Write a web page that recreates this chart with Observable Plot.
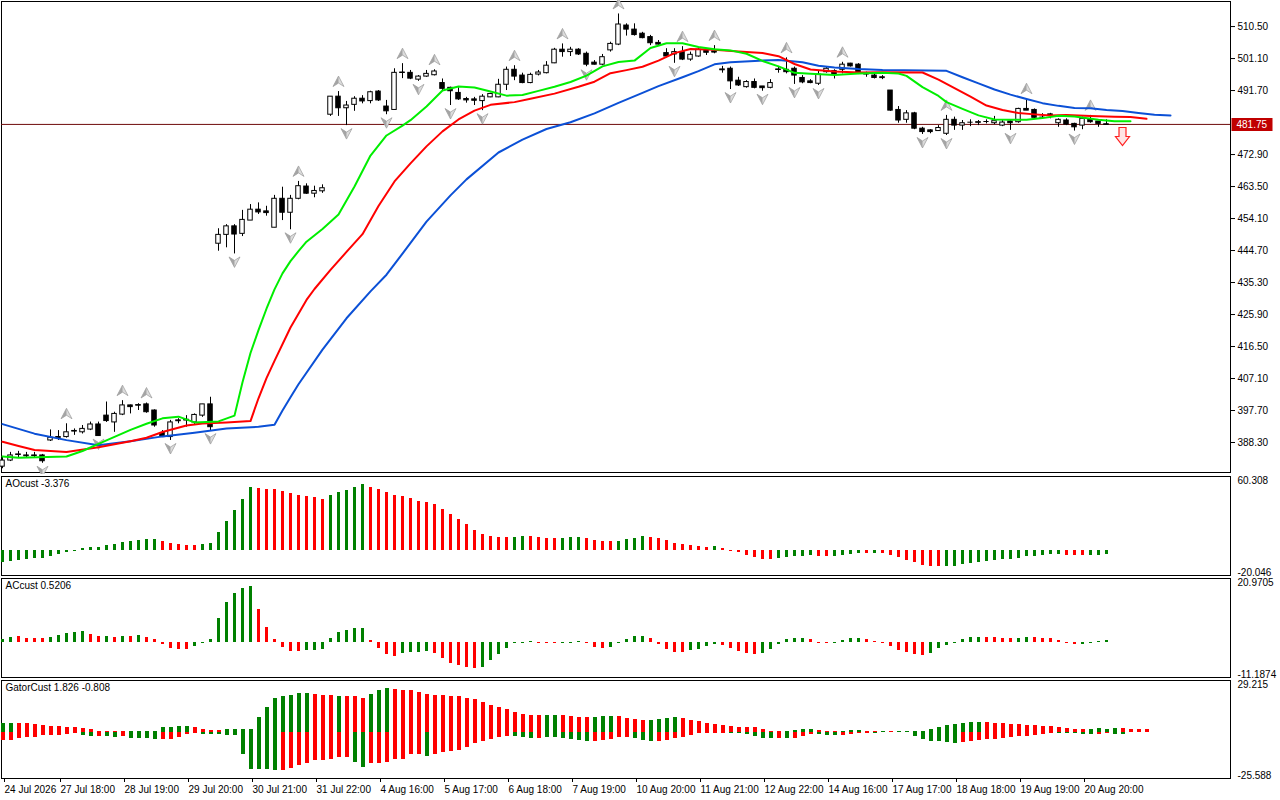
<!DOCTYPE html>
<html><head><meta charset="utf-8">
<script src="https://cdn.jsdelivr.net/npm/d3@7"></script>
<script src="https://cdn.jsdelivr.net/npm/@observablehq/plot@0.6"></script>
<style>
html,body{margin:0;padding:0;background:#fff;}
#chart{position:relative;width:1280px;height:800px;overflow:hidden;background:#fff;}
#chart svg{position:absolute;left:0;display:block;}
</style></head>
<body><div id="chart"></div>
<script>
// ---------------- DATA ----------------
const opens = [
381.2,383.0,384.7,384.5,384.4,384.5,388.9,389.9,389.9,391.6,
391.3,392.1,393.6,396.2,394.2,396.5,399.2,399.2,399.5,397.7,
391.1,389.9,394.8,395.0,394.2,396.2,399.5,446.7,449.3,451.8,
449.6,453.5,456.7,456.2,451.4,459.9,455.8,459.9,463.5,461.4,
462.1,484.6,489.9,486.5,487.5,489.3,488.6,491.4,487.0,486.0,
496.9,496.9,494.9,495.8,496.2,493.9,492.5,491.0,489.2,489.1,
488.6,489.7,489.7,493.4,497.8,496.1,493.9,496.4,496.8,499.7,
503.7,503.0,503.7,502.5,499.9,499.3,503.5,505.2,510.8,509.6,
508.4,507.4,505.7,502.7,502.3,503.0,500.8,501.7,503.3,503.2,
497.9,498.1,494.6,492.7,494.2,492.9,492.5,497.8,497.8,498.1,
495.4,494.4,493.7,497.1,497.4,497.8,499.6,499.3,496.8,496.1,
495.6,491.7,486.0,483.1,485.0,480.5,480.0,479.8,479.0,483.1,
481.4,482.4,482.3,482.6,482.1,481.4,482.6,482.4,486.3,486.0,
483.9,484.7,482.1,482.9,481.9,481.4,483.2,482.6,481.8];
const highs = [
384.2,385.4,385.7,385.4,385.4,384.8,392.0,391.8,393.8,392.3,
393.3,394.3,394.3,400.2,397.2,400.6,399.3,399.7,399.9,397.9,
391.8,394.8,395.3,396.2,396.7,399.5,401.6,451.1,452.3,452.3,
456.5,458.2,458.7,457.7,460.9,463.3,460.9,465.0,464.3,463.6,
464.0,489.9,491.4,488.5,489.9,490.2,491.5,491.7,488.8,498.1,
499.6,497.6,496.1,497.6,497.8,495.1,492.7,492.5,489.7,489.7,
490.5,490.9,495.0,498.6,499.0,496.8,496.8,497.6,500.2,504.1,
505.4,504.4,504.0,503.0,500.5,502.3,505.9,514.2,511.3,511.3,
508.8,507.9,506.4,504.0,504.0,504.6,503.0,504.0,504.0,504.9,
498.8,498.6,495.6,494.6,495.1,492.9,494.9,498.8,501.3,498.6,
496.1,494.9,497.6,498.6,497.8,500.0,499.7,499.6,497.1,496.6,
496.1,491.7,487.0,485.8,485.3,480.9,480.2,481.4,484.4,483.9,
482.9,483.1,482.9,483.1,484.1,483.1,482.9,486.5,489.3,486.3,
484.9,485.0,483.4,483.4,482.1,483.9,484.4,482.6,483.1];
const lows = [
380.6,382.7,383.9,383.6,383.9,382.2,388.6,388.9,389.6,390.4,
390.8,391.8,390.2,394.2,391.3,396.2,396.7,397.7,396.9,392.8,
389.9,388.9,393.8,392.8,393.3,395.7,391.8,444.5,445.5,443.7,
448.8,453.5,455.3,454.8,451.4,453.5,450.8,459.6,461.2,460.2,
461.5,484.1,484.1,481.4,485.6,487.8,487.8,488.5,484.6,486.0,
495.2,494.9,494.4,495.6,496.0,491.5,487.3,488.8,488.0,487.3,
485.8,489.6,489.6,491.7,494.6,493.7,493.7,496.0,496.6,499.6,
501.5,501.7,502.0,498.7,499.2,499.0,503.0,504.9,507.7,507.7,
506.9,504.9,504.9,501.3,499.7,500.5,500.3,501.5,502.0,502.5,
496.8,492.0,492.9,492.4,492.2,491.5,492.2,496.8,496.6,493.5,
493.7,493.7,493.2,496.8,495.1,496.6,498.6,496.4,495.6,495.1,
494.9,485.6,482.1,482.1,480.2,478.8,479.0,479.7,478.5,480.0,
480.0,481.1,481.4,481.9,481.7,481.1,480.0,482.1,485.8,483.4,
483.4,483.4,480.9,481.4,479.8,480.2,482.1,480.9,481.7];
const closes = [
383.0,384.5,384.8,384.4,384.5,382.8,389.7,389.8,391.3,391.7,
392.3,393.6,390.2,394.6,396.7,399.2,398.7,399.3,397.2,393.3,
389.9,394.2,394.7,394.9,396.4,399.5,392.8,449.3,451.8,449.4,
453.7,456.7,455.9,455.7,459.9,455.8,459.9,463.6,461.4,462.2,
463.0,489.9,486.5,487.3,489.3,488.5,491.2,488.8,485.6,496.9,
497.0,495.2,495.8,496.6,497.3,492.2,491.5,489.1,488.8,488.7,
489.9,490.7,493.4,497.8,495.8,493.9,496.3,497.0,499.0,503.7,
503.0,503.7,502.3,499.3,499.3,501.5,505.4,511.1,509.6,508.0,
507.1,505.6,505.2,501.7,503.0,500.8,502.2,503.7,502.8,503.0,
497.8,494.4,493.2,494.2,492.5,492.4,493.9,497.9,497.1,496.1,
494.1,493.9,496.4,498.1,496.4,499.3,498.8,496.8,496.4,495.4,
495.5,485.8,482.9,485.0,480.5,479.5,479.5,480.7,483.1,481.4,
482.1,482.4,482.4,482.6,482.7,482.3,482.1,486.3,485.8,483.7,
483.9,484.6,483.1,481.7,480.9,483.4,482.4,481.9,481.75];
const lastPrice = 481.75;

// Alligator lines (bar index, price)
const jawIdx = [0,4,8,12,16,20,24,28,32,34,35,36,37,40,43,46,48,50,53,56,58,62,65,68,71,74,77,80,82,85,87,89,91,94,97,100,102,104,107,110,118,120,122,124,126,128,130,132,134,136,138,140,142,144,146];
const jawVal = [393.7,390.9,389.0,387.5,388.7,390.1,391.2,392.4,392.9,393.5,397.7,401.6,405.4,415.6,424.8,432.7,437.6,443.8,453.2,460.9,465.6,473.5,477.3,480.4,482.4,485.0,488.1,491.0,493.0,495.6,497.4,499.4,500.0,500.4,500.7,500.0,499.0,498.5,498.0,497.7,497.5,495.6,493.8,492.0,490.5,489.2,488.0,487.2,486.6,486.5,486.0,485.7,485.1,484.6,484.4];
const teethIdx = [0,2,4,8,12,16,18,20,23,25,28,31,32,33,34,36,38,39,41,43,45,47,49,51,53,55,57,59,61,64,66,69,72,74,76,78,80,82,84,86,89,92,95,97,99,101,104,107,110,115,117,119,121,123,125,127,129,131,133,136,139,141,143];
const teethVal = [388.5,387.3,386.1,385.5,386.9,388.7,389.7,391.4,393.3,393.9,394.2,394.6,401.3,407.2,412.3,422.1,430.2,433.4,439.0,444.3,449.5,457.8,465.0,470.3,475.3,479.7,483.2,485.8,487.5,488.3,489.3,490.8,492.8,494.3,496.8,497.7,498.7,500.5,502.7,503.9,503.7,503.2,502.7,501.8,499.5,497.9,497.3,497.0,497.1,497.0,494.9,492.4,489.9,487.3,486.0,485.1,484.7,484.4,484.5,484.2,484.0,483.9,483.4];
const lipsIdx = [0,2,8,10,12,16,18,20,22,24,27,29,30,31,32,33,34,35,36,37,38,40,42,44,46,48,50,51,53,55,57,59,61,63,65,67,69,71,73,75,77,79,81,83,85,87,89,91,93,95,97,99,101,104,107,110,112,113,115,117,118,120,122,124,126,128,130,132,134,137,139,141];
const lipsVal = [384.2,383.8,384.2,385.8,387.9,392.0,393.8,395.4,395.9,394.2,394.5,396.2,406.0,414.6,421.3,427.6,433.3,438.0,441.6,444.5,447.3,451.0,455.3,463.5,472.6,478.5,481.4,483.0,487.0,491.7,492.9,492.6,491.4,490.2,490.4,491.6,492.8,494.2,496.1,498.8,500.1,500.5,504.2,505.6,505.6,504.5,503.8,503.5,502.5,500.4,498.8,496.9,496.6,496.3,496.7,496.9,496.7,496.0,492.7,490.1,488.3,486.3,484.4,483.2,483.1,483.1,483.6,484.3,484.1,483.1,482.7,482.7];

// Fractals (bar indices) and sell signal
const upFractalIdx = [8,15,18,37,42,50,54,64,70,77,85,89,98,105,118,128,136];
const downFractalIdx = [5,12,21,26,29,36,43,48,52,56,60,73,84,91,95,99,102,115,118,126,134];
const sellSignals = [{i: 140, price: 478.2}];

// AO
const aoValues = [
-9.9,-8.8,-8.0,-7.2,-6.9,-6.3,-5.0,-3.0,-1.4,-0.8,
1.7,2.5,2.5,4.1,5.0,6.6,7.4,8.0,9.1,9.1,
7.4,5.8,5.0,4.1,4.1,5.0,5.8,14.9,24.2,33.3,
42.1,52.0,51.2,50.4,50.4,48.7,47.1,45.4,44.9,43.8,
42.1,45.4,48.2,49.6,52.0,54.5,52.0,50.4,48.2,45.4,
44.6,43.0,40.5,39.6,38.0,33.9,29.7,25.6,21.5,16.5,
13.2,11.6,10.7,10.7,10.9,11.6,11.4,10.7,9.9,9.8,
10.0,10.7,10.8,9.9,8.3,7.4,7.3,7.5,9.1,9.9,
11.6,10.7,9.9,8.3,5.8,5.0,4.1,3.3,2.5,3.3,
1.7,-0.8,-1.7,-4.1,-5.8,-7.4,-7.5,-6.6,-5.8,-5.0,
-4.9,-4.1,-5.0,-5.1,-5.0,-4.1,-3.3,-2.5,-2.6,-2.4,
-2.5,-4.1,-5.8,-8.3,-9.9,-12.4,-13.2,-13.3,-13.2,-13.1,
-11.6,-10.7,-9.9,-9.1,-8.3,-7.4,-7.4,-6.6,-5.0,-5.0,
-4.1,-3.3,-3.3,-4.1,-4.1,-4.1,-4.1,-4.1,-3.376];
const aoColors = ("gggggggggggggggggggg"+"rrrrr"+"ggggggg"+"rrrrrrrrr"+"ggggg"+"rrrrrrrrrrrrrrrrrr"+"gg"+"rrrr"+"ggg"+"rrrr"+"gggg"+"rrrrrrrr"+"g"+"rrrrrrr"+"ggggg"+"rr"+"gggg"+"r"+"g"+"rrrrrrrr"+"ggggggggggggggg"+"rrr"+"ggg").split("");

// AC
const acValues = [
0.9,1.5,1.8,1.2,1.2,1.2,1.5,2.2,2.9,3.2,
3.5,2.5,1.9,1.9,1.5,1.9,1.9,2.2,1.5,0.9,
-0.7,-2.1,-2.4,-2.4,-1.4,-0.3,0.9,7.8,13.1,16.1,
17.8,18.5,10.8,4.9,0.9,-1.8,-3.1,-3.1,-2.8,-2.8,
-2.4,1.2,3.2,3.9,4.5,4.5,0.6,-2.1,-4.1,-4.8,
-3.8,-3.4,-3.4,-3.1,-3.8,-5.4,-7.1,-7.7,-8.4,-8.7,
-8.4,-6.1,-4.1,-2.1,-0.3,-0.3,0.3,-0.3,-0.3,-0.4,
-0.3,-0.3,0.3,-0.3,-1.7,-2.0,-1.7,-0.3,0.9,1.9,
1.9,1.2,-0.7,-2.3,-3.3,-3.3,-2.7,-2.3,-1.3,-0.7,
-1.0,-2.0,-3.0,-3.6,-4.0,-3.6,-2.3,-0.7,0.9,1.2,
1.2,0.9,-0.3,-0.3,-0.3,0.6,1.2,1.2,0.9,0.3,
-0.3,-1.3,-2.7,-3.3,-4.0,-4.3,-3.6,-2.0,-1.0,-0.3,
0.9,1.5,1.5,1.5,1.5,1.2,1.2,1.2,1.5,1.5,
1.2,1.2,0.6,-0.3,-0.7,-0.7,-0.3,0.3,0.5206];
const acColors = ("gg"+"rrrr"+"ggggg"+"rr"+"g"+"r"+"g"+"r"+"g"+"rrrrrr"+"gggggggg"+"rrrrrr"+"gggggggg"+"rrrr"+"gggg"+"rrrrrr"+"ggggggg"+"rrr"+"ggg"+"rrr"+"ggggg"+"rrrrr"+"gggg"+"rrrrr"+"gggggg"+"rrr"+"gggg"+"rrrrrrrr"+"ggggggg"+"rrrr"+"gg"+"rrrrrr"+"gggg").split("");

// Gator
const gatorUpper = [
5.2,5.2,4.8,4.8,4.4,3.8,3.3,3.3,2.7,2.7,
2.1,1.5,0.4,0.3,0.3,0.3,0.3,0.3,0.3,0.6,
2.7,2.7,3.3,3.3,2.7,1.5,1.0,1.0,1.5,1.5,
1.5,1.5,8.6,14.4,19.6,20.7,21.3,22.1,22.1,21.5,
20.9,20.9,20.6,20.6,20.6,19.6,21.7,24.0,25.2,24.6,
24.0,24.0,22.9,21.7,21.1,21.1,20.6,20.6,19.4,18.8,
17.1,15.4,14.2,13.1,11.3,10.2,9.6,9.6,9.6,9.6,
9.4,9.0,8.6,8.6,8.6,9.2,9.2,9.2,8.1,7.3,
6.9,6.9,7.5,8.1,8.6,8.1,6.9,6.3,5.2,4.6,
4.0,3.5,2.9,2.9,2.9,1.7,0.6,0.3,0.6,1.2,
1.7,1.7,1.2,0.6,0.3,0.6,1.2,1.2,0.6,0.6,
0.3,0.3,0.3,0.3,0.3,0.3,1.5,2.7,3.8,4.4,
5.0,5.6,5.6,5.6,5.0,5.0,4.4,4.4,3.8,3.8,
3.3,3.3,2.7,2.1,1.5,1.5,1.5,2.1,1.83,2.1,
2.1,1.5,1.5,1.5];
const gatorUpperColors = ("gg"+"rrrrrrrrrrrrrr"+"gggggggg"+"rrrr"+"ggggggggggg"+"rrr"+"g"+"rrr"+"ggg"+"rrrrrrrrrrrrrrrrrrr"+"gg"+"rrrr"+"ggg"+"rrrr"+"gggg"+"rrrrrrrrrrrrr"+"gggg"+"rrr"+"ggg"+"rr"+"g"+"r"+"ggggggggggg"+"rrrrrrrrrrrrr"+"gggg"+"rrrr").split("");
const gatorLower = [
-4.8,-4.8,-3.7,-3.3,-2.9,-1.7,-1.7,-1.7,-1.2,-0.6,
-2.1,-2.3,-2.3,-2.3,-2.9,-2.3,-3.5,-3.5,-3.5,-4.0,
-4.0,-4.0,-2.9,-1.2,-0.6,-1.2,-1.2,-1.2,-1.7,-1.7,
-12.7,-21.3,-21.3,-21.3,-21.9,-21.9,-20.7,-19.0,-17.9,-16.1,
-16.1,-15.6,-14.4,-14.4,-17.3,-20.2,-17.9,-17.9,-17.3,-15.9,
-15.6,-13.1,-12.7,-13.8,-12.7,-11.5,-11.0,-10.4,-8.6,-6.3,
-5.2,-4.0,-2.9,-2.3,-2.3,-2.9,-3.7,-3.7,-3.3,-3.3,
-3.7,-4.2,-4.8,-5.4,-5.4,-4.8,-4.2,-3.1,-3.1,-3.7,
-4.8,-5.4,-5.4,-4.8,-3.7,-3.1,-1.9,-0.8,-0.8,-0.8,
-0.8,-0.8,-0.8,-1.3,-2.5,-3.7,-3.7,-3.7,-3.7,-3.7,
-2.5,-1.3,-1.3,-1.9,-1.7,-1.9,-1.3,-0.8,-0.8,-0.8,
-0.3,-0.3,-0.3,-0.3,-2.5,-4.2,-5.4,-5.4,-6.0,-6.5,
-6.0,-5.4,-4.8,-4.2,-4.2,-3.7,-3.1,-2.5,-2.5,-1.9,
-1.3,-0.8,-0.8,-0.8,-0.8,-1.3,-1.3,-1.3,-0.81,-1.3,
-1.3,-0.3];
const gatorLowerColors = ("rrrrrrrrrr"+"gg"+"r"+"gg"+"r"+"gggg"+"rrrrr"+"gggggggggg"+"rrrrrrrrr"+"gg"+"rrrrrrr"+"g"+"rrrrrrrrrr"+"ggg"+"r"+"gggggg"+"rrrrr"+"ggg"+"rrrrrrrrr"+"gggggg"+"r"+"g"+"rrr"+"ggg"+"rrrr"+"gg"+"r"+"gggggggg"+"rrrrrrrrrrrr"+"ggggg"+"rr"+"ggg").split("");

// Axis labels
const priceTicks = [510.50, 501.10, 491.70, 472.90, 463.50, 454.10, 444.70, 435.30, 425.90, 416.50, 407.10, 397.70, 388.30];
const timeTickIdx = [0,7,15,23,31,39,47,55,63,71,79,87,95,103,111,119,127,135];
const timeTickLabels = ["24 Jul 2026","27 Jul 18:00","28 Jul 19:00","29 Jul 20:00","30 Jul 21:00","31 Jul 22:00","4 Aug 16:00","5 Aug 17:00","6 Aug 18:00","7 Aug 19:00","10 Aug 20:00","11 Aug 21:00","12 Aug 22:00","14 Aug 16:00","17 Aug 17:00","18 Aug 18:00","19 Aug 19:00","20 Aug 20:00"];
const paneTitles = {ao: "AOcust -3.376", ac: "ACcust 0.5206", gator: "GatorCust 1.826 -0.808"};
const paneScaleLabels = {ao: ["60.308", "-20.046"], ac: ["20.9705", "-11.1874"], gator: ["29.215", "-25.588"]};

// ---------------- BUILD ----------------
const GREEN = "#008000", RED = "#ff0000";
const col = c => c === "g" ? GREEN : RED;
const candles = opens.map((o, i) => ({i, o, h: highs[i], l: lows[i], c: closes[i]}));
const toPts = (idx, val) => idx.map((i, k) => ({i, v: val[k]}));
const jaw = toPts(jawIdx, jawVal), teeth = toPts(teethIdx, teethVal), lips = toPts(lipsIdx, lipsVal);
const upFr = upFractalIdx.map(i => ({i, v: highs[i]}));
const dnFr = downFractalIdx.map(i => ({i, v: lows[i]}));
const ao = aoValues.map((v, i) => ({i, v, c: col(aoColors[i])}));
const ac = acValues.map((v, i) => ({i, v, c: col(acColors[i])}));
const gU = gatorUpper.map((v, i) => ({i, v, c: col(gatorUpperColors[i])}));
const gL = gatorLower.map((v, i) => ({i, v, c: col(gatorLowerColors[i])}));

const xDomain = [-0.125, 153.5];
const FONT = "'Liberation Sans', Arial, sans-serif";
const style = {fontFamily: FONT, fontSize: "10px", color: "black", background: "white", overflow: "visible"};

const upShape = {draw(c){c.moveTo(0,-5.5);c.lineTo(5.5,5);c.lineTo(0,1.5);c.lineTo(-5.5,5);c.closePath();}};
const upHalf = {draw(c){c.moveTo(0,-5.5);c.lineTo(0,1.5);c.lineTo(-5.5,5);c.closePath();}};
const dnShape = {draw(c){c.moveTo(0,5.5);c.lineTo(5.5,-5);c.lineTo(0,-1.5);c.lineTo(-5.5,-5);c.closePath();}};
const dnHalf = {draw(c){c.moveTo(0,5.5);c.lineTo(0,-1.5);c.lineTo(-5.5,-5);c.closePath();}};
const sellShape = {draw(c){c.moveTo(-3.5,-9);c.lineTo(3.5,-9);c.lineTo(3.5,0);c.lineTo(7,0);c.lineTo(0,9);c.lineTo(-7,0);c.lineTo(-3.5,0);c.closePath();}};
const tagShape = {draw(c){c.rect(1,-6.5,41,13);}};

const chart = document.getElementById("chart");
function place(svg, top){ svg.style.top = top + "px"; chart.appendChild(svg); }

const main = Plot.plot({
  width: 1280, height: 474, marginLeft: 1, marginRight: 50, marginTop: 1, marginBottom: 2,
  x: {domain: xDomain, axis: null},
  y: {domain: [379.49, 517.86], axis: null},
  style,
  marks: [
    Plot.frame({stroke: "black"}),
    Plot.ruleY([lastPrice], {stroke: "#6e0a0a", strokeWidth: 1}),
    Plot.ruleX(candles, {x: "i", y1: "l", y2: "h", stroke: "black", strokeWidth: 1}),
    Plot.rect(candles, {x1: d => d.i - 0.28, x2: d => d.i + 0.28, y1: "o", y2: "c", fill: d => d.c >= d.o ? "white" : "black", stroke: "black", strokeWidth: 1}),
    Plot.ruleY(candles.filter(d => Math.abs(d.c - d.o) < 0.35), {y: "c", x1: d => d.i - 0.33, x2: d => d.i + 0.33, stroke: "black"}),
    Plot.dot(upFr, {x: "i", y: "v", symbol: upShape, fill: "#dcdcdc", stroke: "#8c8c8c", strokeWidth: 0.6, dy: -10}),
    Plot.dot(upFr, {x: "i", y: "v", symbol: upHalf, fill: "#a4a4a4", stroke: "none", dy: -10}),
    Plot.dot(dnFr, {x: "i", y: "v", symbol: dnShape, fill: "#dcdcdc", stroke: "#8c8c8c", strokeWidth: 0.6, dy: 8}),
    Plot.dot(dnFr, {x: "i", y: "v", symbol: dnHalf, fill: "#a4a4a4", stroke: "none", dy: 8}),
    Plot.line(jaw, {x: "i", y: "v", stroke: "#0b50d6", strokeWidth: 2}),
    Plot.line(teeth, {x: "i", y: "v", stroke: "#ff0000", strokeWidth: 2}),
    Plot.line(lips, {x: "i", y: "v", stroke: "#00ee00", strokeWidth: 2}),
    Plot.dot(sellSignals, {x: "i", y: "price", symbol: sellShape, fill: "#ffe4e4", stroke: "#ff2020", strokeWidth: 1.2}),
    Plot.axisY({anchor: "right", ticks: priceTicks, tickFormat: d => d.toFixed(2), tickSize: 4, tickPadding: 3, fontSize: 10}),
    Plot.dot([lastPrice], {y: d => d, frameAnchor: "right", symbol: tagShape, fill: "#c00000", stroke: "none"}),
    Plot.text([lastPrice], {y: d => d, frameAnchor: "right", dx: 6, text: d => d.toFixed(2), fill: "white", textAnchor: "start", fontSize: 10})
  ]
});
place(main, 0);

function subPane(key, data2, top, height, mt, mb, domain, width, extra) {
  const marks = [
    Plot.frame({stroke: "black"}),
    ...data2.map(d => Plot.ruleX(d, {x: "i", y1: 0, y2: "v", stroke: "c", strokeWidth: width, shapeRendering: "crispEdges"})),
    Plot.text([paneTitles[key]], {text: d => d, frameAnchor: "top-left", dx: 4, dy: 3, lineAnchor: "top", textAnchor: "start", fontSize: 10}),
    Plot.text([paneScaleLabels[key][0]], {text: d => d, frameAnchor: "top-right", dx: 7, dy: 0, lineAnchor: "top", textAnchor: "start", fontSize: 10}),
    Plot.text([paneScaleLabels[key][1]], {text: d => d, frameAnchor: "bottom-right", dx: 7, dy: 0, lineAnchor: "bottom", textAnchor: "start", fontSize: 10}),
    ...(extra || [])
  ];
  const svg = Plot.plot({
    width: 1280, height, marginLeft: 1, marginRight: 50, marginTop: mt, marginBottom: mb,
    x: {domain: xDomain, axis: null},
    y: {domain, axis: null},
    style, marks
  });
  place(svg, top);
}

subPane("ao", [ao], 474, 103, 2, 2, [-20.65, 61.13], 3);
subPane("ac", [ac], 577, 102, 1, 2, [-11.70, 21.12], 3);
subPane("gator", [gU, gL], 679, 121, 1, 22, [-26.69, 29.80], 4, [
  Plot.axisX({anchor: "bottom", ticks: timeTickIdx, tickFormat: d => timeTickLabels[timeTickIdx.indexOf(d)], tickSize: 4, tickPadding: 3, textAnchor: "start", dx: 2, fontSize: 10, label: null})
]);
</script>
</body></html>
